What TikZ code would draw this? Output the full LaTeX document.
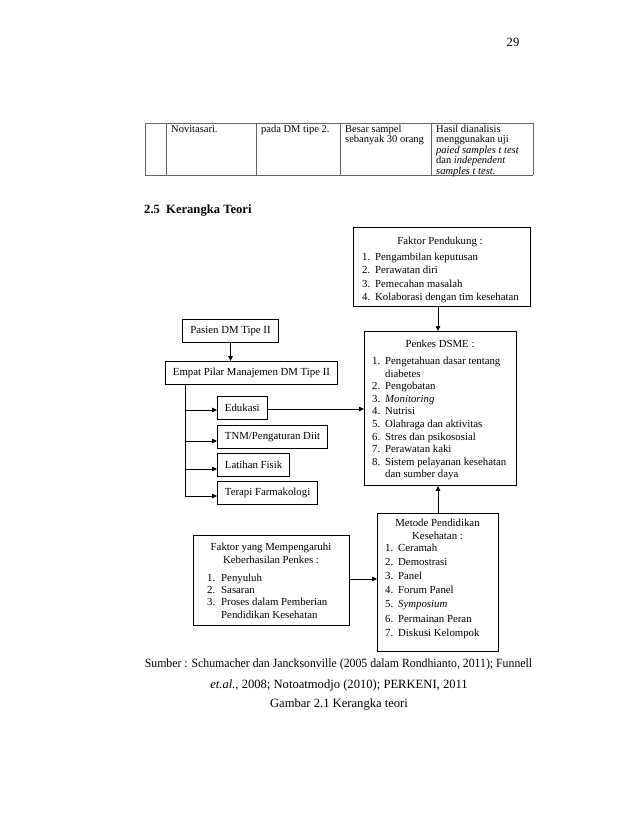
\documentclass[tikz,border=0pt]{standalone}
\usepackage{fontspec}
\setmainfont{Liberation Serif}
\usetikzlibrary{arrows.meta}
\newcommand{\bxfont}{\fontsize{10.8}{13.4}\selectfont}
\newcommand{\bxfontB}{\fontsize{10.8}{12.6}\selectfont}
\newcommand{\bxfontC}{\fontsize{10.8}{12.4}\selectfont}
\newcommand{\bxfontD}{\fontsize{10.8}{14.2}\selectfont}
\newcommand{\tbfont}{\fontsize{10.5}{10.4}\selectfont}
\newcommand{\capfont}{\fontsize{12.6}{15}\selectfont}
\begin{document}
\begin{tikzpicture}[x=1pt,y=-1pt,
  frame/.style={draw, line width=0.9pt, inner sep=0pt},
  lbox/.style={draw, line width=0.9pt, inner xsep=7.5pt, inner ysep=0pt, minimum height=23pt, font=\bxfont},
  arr/.style={line width=0.8pt, -{Triangle[length=5pt,width=4.5pt]}},
  ln/.style={line width=0.8pt},
  tline/.style={line width=0.8pt, draw=black!60},
  txt/.style={inner sep=0pt, anchor=base west},
  ctxt/.style={inner sep=0pt, anchor=base},
]
\useasboundingbox (0,0) rectangle (638,826);

% page number
\node[ctxt, font=\capfont] (pg) at (513,47) {29};

% table fragment
\draw[tline] (145,123) -- (533,123);
\draw[tline] (145,175) -- (533,175);
\foreach \xx in {145,166,256,340,431,533} \draw[tline] (\xx,123) -- (\xx,175);
\node[txt, font=\tbfont] (c1) at (171,132.5) {Novitasari.};
\node[txt, font=\tbfont] (c2) at (261,132.5) {pada DM tipe 2.};
\node[txt, font=\tbfont, align=left] (c3) at (345,132.5) {\begin{tabular}[t]{@{}l@{}}Besar sampel\\sebanyak 30 orang\end{tabular}};
\node[txt, font=\tbfont, align=left] (c4) at (436,132.5) {\begin{tabular}[t]{@{}l@{}}Hasil dianalisis\\menggunakan uji\\\textit{paied samples t test}\\dan \textit{independent}\\\textit{samples t test.}\end{tabular}};

% heading
\node[txt, font=\capfont\bfseries] (h1) at (144,214) {2.5};
\node[txt, font=\capfont\bfseries] (h2) at (166,214) {Kerangka Teori};

% Faktor Pendukung
\node[frame, minimum width=177pt, minimum height=79pt, anchor=north west] (fp) at (353,227) {};
\node[ctxt, font=\bxfont] (fpT) at (440,244) {Faktor Pendukung :};
\node[txt, font=\bxfont] (fpL) at (362,260.5) {\begin{tabular}[t]{@{}p{13pt}@{}l@{}}
1. & Pengambilan keputusan\\
2. & Perawatan diri\\
3. & Pemecahan masalah\\
4. & Kolaborasi dengan tim kesehatan\end{tabular}};

% Penkes DSME
\node[frame, minimum width=152pt, minimum height=154pt, anchor=north west] (pk) at (364,331) {};
\node[ctxt, font=\bxfontB] (pkT) at (440,347) {Penkes DSME :};
\node[txt, font=\bxfontB] (pkL) at (372,364.5) {\begin{tabular}[t]{@{}p{13pt}@{}l@{}}
1. & Pengetahuan dasar tentang\\
   & diabetes\\
2. & Pengobatan\\
3. & \textit{Monitoring}\\
4. & Nutrisi\\
5. & Olahraga dan aktivitas\\
6. & Stres dan psikososial\\
7. & Perawatan kaki\\
8. & Sistem pelayanan kesehatan\\
   & dan sumber daya\end{tabular}};

% left chain
\node[lbox, anchor=north] (ps) at (230.5,319) {Pasien DM Tipe II};
\node[lbox, anchor=north west] (ep) at (165,361) {Empat Pilar Manajemen DM Tipe II};
\node[lbox, anchor=north west] (ed) at (217,396) {Edukasi};
\node[lbox, anchor=north west] (tn) at (217,425) {TNM/Pengaturan Diit};
\node[lbox, anchor=north west] (lf) at (217,453) {Latihan Fisik};
\node[lbox, anchor=north west] (tf) at (217,481) {Terapi Farmakologi};

\draw[arr] (ps.south) -- (ps.south |- ep.north);
\coordinate (trunk) at (185,385);
\draw[ln] (ep.south -| trunk) -- (trunk |- 0,496);
\draw[arr] (trunk |- 0,410) -- (ed.west |- 0,410);
\draw[arr] (trunk |- 0,441) -- (tn.west |- 0,441);
\draw[arr] (trunk |- 0,469) -- (lf.west |- 0,469);
\draw[arr] (trunk |- 0,496) -- (tf.west |- 0,496);
\draw[arr] (ed.east |- 0,409) -- (pk.west |- 0,409);

% Faktor yang Mempengaruhi
\node[frame, minimum width=156pt, minimum height=90pt, anchor=north west] (fm) at (193,535) {};
\node[ctxt, font=\bxfontC, align=center] (fmT) at (271,550) {\begin{tabular}[t]{@{}c@{}}Faktor yang Mempengaruhi\\[1.5pt]Keberhasilan Penkes :\end{tabular}};
\node[txt, font=\bxfontC] (fmL) at (207,581) {\begin{tabular}[t]{@{}p{14pt}@{}l@{}}
1. & Penyuluh\\
2. & Sasaran\\
3. & Proses dalam Pemberian\\
   & Pendidikan Kesehatan\end{tabular}};

% Metode Pendidikan
\node[frame, minimum width=121pt, minimum height=138pt, anchor=north west] (mp) at (377,513) {};
\node[ctxt, font=\bxfontC, align=center] (mpT) at (437.5,526.5) {\begin{tabular}[t]{@{}c@{}}Metode Pendidikan\\[1pt]Kesehatan :\end{tabular}};
\node[txt, font=\bxfontD] (mpL) at (385,551) {\begin{tabular}[t]{@{}p{13pt}@{}l@{}}
1. & Ceramah\\
2. & Demostrasi\\
3. & Panel\\
4. & Forum Panel\\
5. & \textit{Symposium}\\
6. & Permainan Peran\\
7. & Diskusi Kelompok\end{tabular}};

% connectors to Penkes
\draw[arr] (fp.south -| 438,0) -- (pk.north -| 438,0);
\draw[arr] (mp.north -| 438,0) -- (pk.south -| 438,0);
\draw[arr] (fm.east |- 0,579) -- (mp.west |- 0,579);

% caption
\node[ctxt, font=\capfont] (s1) at (338.5,667) {\scalebox{0.935}[1]{Sumber : Schumacher dan Jancksonville (2005 dalam Rondhianto, 2011); Funnell}};
\node[ctxt, font=\capfont] (s2) at (339,688) {\textit{et.al.}, 2008; Notoatmodjo (2010); PERKENI, 2011};
\node[ctxt, font=\capfont] (s3) at (339,707) {Gambar 2.1 Kerangka teori};
\end{tikzpicture}
\end{document}
